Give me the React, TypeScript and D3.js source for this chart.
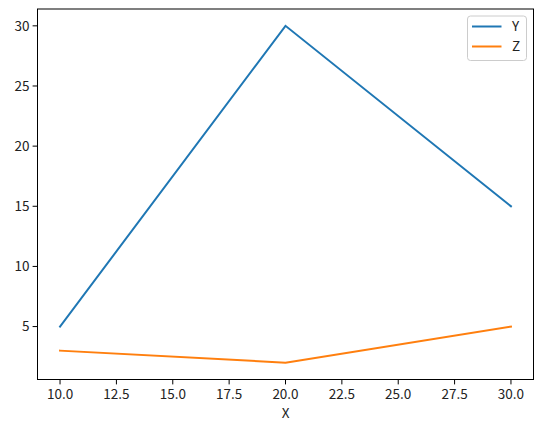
import React from "react";
import * as d3 from "d3";

const xValues = [10, 20, 30];
const yValues = [5, 30, 15];
const zValues = [3, 2, 5];
const seriesNames = ["Y", "Z"];
const seriesColors = ["#1f77b4", "#ff7f0e"];
const xTicks = [10, 12.5, 15, 17.5, 20, 22.5, 25, 27.5, 30];
const yTicks = [5, 10, 15, 20, 25, 30];
const xLabel = "X";

const W = 543, H = 430;
const left = 37.5, right = 533.5, top = 9, bottom = 379.5;
const font = "'Noto Sans CJK JP', 'DejaVu Sans', sans-serif";

export default function App() {
  const x = d3.scaleLinear().domain([9, 31]).range([left, right]);
  const y = d3.scaleLinear().domain([0.6, 31.4]).range([bottom, top]);
  const series = [yValues, zValues];
  const line = d3.line<[number, number]>().x(d => x(d[0])).y(d => y(d[1]));
  return (
    <svg width={W} height={H} style={{ position: "absolute", left: 0, top: 0 }} fontFamily={font}>
      <rect x={0} y={0} width={W} height={H} fill="#fff" />
      {series.map((vals, i) => (
        <path key={i} d={line(xValues.map((xv, j) => [xv, vals[j]]) as [number, number][]) || ""}
          fill="none" stroke={seriesColors[i]} strokeWidth={2} strokeLinecap="square" />
      ))}
      <rect x={left} y={top} width={right - left} height={bottom - top} fill="none" stroke="#000" strokeWidth={1} />
      {xTicks.map(t => (
        <g key={t}>
          <line x1={x(t)} x2={x(t)} y1={bottom} y2={bottom + 4.9} stroke="#000" strokeWidth={1} />
          <text x={x(t)} y={bottom + 19} textAnchor="middle" fontSize={13.5} fill="#222">{t.toFixed(1)}</text>
        </g>
      ))}
      {yTicks.map(t => (
        <g key={t}>
          <line x1={left} x2={left - 4.9} y1={y(t)} y2={y(t)} stroke="#000" strokeWidth={1} />
          <text x={left - 8} y={y(t)} dy="0.36em" textAnchor="end" fontSize={13.5} fill="#222">{t}</text>
        </g>
      ))}
      <text x={(left + right) / 2} y={418} textAnchor="middle" fontSize={13.5} fill="#222">{xLabel}</text>
      <rect x={467.5} y={16} width={59} height={44.5} rx={3} fill="#fff" fillOpacity={0.8} stroke="#ccc" strokeWidth={1} />
      {seriesNames.map((n, i) => (
        <g key={n}>
          <line x1={472} x2={501.5} y1={26.5 + i * 20} y2={26.5 + i * 20} stroke={seriesColors[i]} strokeWidth={2} />
          <text x={512} y={26.5 + i * 20} dy="0.36em" fontSize={13.5} fill="#222">{n}</text>
        </g>
      ))}
    </svg>
  );
}
